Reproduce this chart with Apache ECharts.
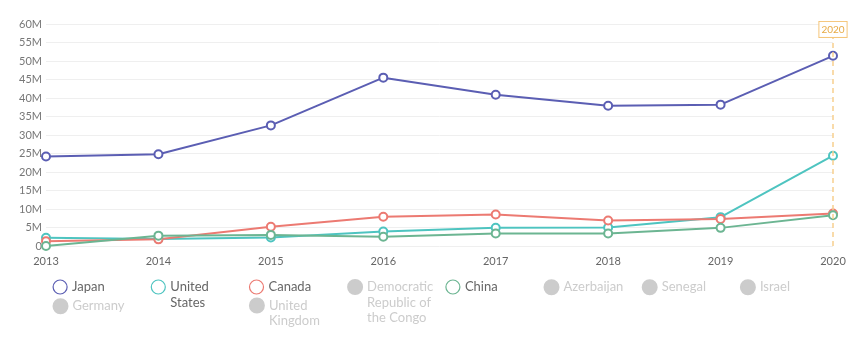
<!DOCTYPE html>
<html>
<head>
<meta charset="utf-8">
<script src="https://cdn.jsdelivr.net/npm/echarts@6/dist/echarts.min.js"></script>
<style>
html,body{margin:0;padding:0;background:#fff;}
#chart{width:858px;height:357px;}
</style>
</head>
<body>
<div id="chart"></div>
<script>
// ---- data ----
const years = ['2013','2014','2015','2016','2017','2018','2019','2020'];
const japan = [24.2e6, 24.8e6, 32.6e6, 45.5e6, 40.9e6, 37.9e6, 38.2e6, 51.4e6];
const unitedStates = [2.2e6, 1.9e6, 2.3e6, 3.9e6, 4.9e6, 5.0e6, 7.8e6, 24.4e6];
const canada = [1.3e6, 1.8e6, 5.2e6, 7.9e6, 8.5e6, 6.9e6, 7.3e6, 8.8e6];
const china = [0, 2.8e6, 3.0e6, 2.5e6, 3.4e6, 3.4e6, 4.9e6, 8.3e6];
const drc = [];
const azerbaijan = [];
const senegal = [];
const israel = [];
const germany = [];
const unitedKingdom = [];
const highlightYear = '2020';
const yTicks = {min: 0, max: 60e6, interval: 5e6};

const colors = {
  'Japan': '#5b5eb3',
  'United States': '#4ec4c0',
  'Canada': '#ec7a72',
  'Democratic Republic of the Congo': '#999999',
  'China': '#6cb592',
  'Azerbaijan': '#999999',
  'Senegal': '#999999',
  'Israel': '#999999',
  'Germany': '#999999',
  'United Kingdom': '#999999'
};
const seriesData = [
  ['Japan', japan],
  ['United States', unitedStates],
  ['Canada', canada],
  ['Democratic Republic of the Congo', drc],
  ['China', china],
  ['Azerbaijan', azerbaijan],
  ['Senegal', senegal],
  ['Israel', israel],
  ['Germany', germany],
  ['United Kingdom', unitedKingdom]
];
const hidden = ['Democratic Republic of the Congo','Azerbaijan','Senegal','Israel','Germany','United Kingdom'];

const FONT = 'Lato';
const LH = 15.5;
const colX = i => 52.5 + i * 98.2;
// [name, column, iconCenterY, lines]
const legendLayout = [
  ['Japan', 0, 287, 1],
  ['United States', 1, 287, 2],
  ['Canada', 2, 287, 1],
  ['Democratic Republic of the Congo', 3, 287, 3],
  ['China', 4, 287, 1],
  ['Azerbaijan', 5, 287, 1],
  ['Senegal', 6, 287, 1],
  ['Israel', 7, 287, 1],
  ['Germany', 0, 306, 1],
  ['United Kingdom', 2, 305.5, 2]
];
const selected = {};
seriesData.forEach(([n]) => { selected[n] = hidden.indexOf(n) < 0; });

const legends = legendLayout.map(([name, col, cy, lines]) => {
  const H = (2 * lines - 1) * LH;
  return {
    left: colX(col),
    top: cy - H / 2,
    padding: 0,
    icon: 'circle',
    itemWidth: 14,
    itemHeight: 14,
    itemGap: 5,
    selected: selected,
    inactiveColor: '#cccccc',
    inactiveBorderColor: '#cccccc',
    data: [{
      name: name,
      itemStyle: {color: '#ffffff', borderColor: colors[name], borderWidth: 1.2}
    }],
    // leading blank lines keep the first line level with the icon
    formatter: n => '\n'.repeat(lines - 1) + n,
    textStyle: {
      fontFamily: FONT, fontSize: 13, color: '#666666',
      width: 72, overflow: 'break', lineHeight: LH
    }
  };
});

const series = seriesData.map(([name, data]) => {
  const s = {
    name: name,
    type: 'line',
    data: data,
    symbol: 'emptyCircle',
    symbolSize: 8,
    showSymbol: true,
    lineStyle: {width: 2, color: colors[name]},
    itemStyle: {color: colors[name], borderWidth: 1},
    emphasis: {disabled: true}
  };
  if (name === 'Japan') {
    s.markLine = {
      silent: true,
      symbol: 'none',
      animation: false,
      lineStyle: {color: '#f8cf8e', type: [5, 4], width: 1.5},
      label: {
        show: true, position: 'end', distance: 0,
        formatter: highlightYear,
        fontFamily: FONT, fontSize: 10, color: '#e7aa45',
        backgroundColor: '#ffffff', borderColor: '#f5c67a', borderWidth: 1,
        padding: [3, 2, 2, 2]
      },
      data: [[{coord: [highlightYear, 0]}, {coord: [highlightYear, 56.5e6]}]]
    };
  }
  return s;
});

const chart = echarts.init(document.getElementById('chart'), null, {renderer: 'canvas'});
chart.setOption({
  animation: false,
  textStyle: {fontFamily: FONT},
  grid: {left: 46, right: 25, top: 24, bottom: 111},
  legend: legends,
  xAxis: {
    type: 'category',
    data: years,
    boundaryGap: false,
    axisLine: {show: false},
    axisTick: {show: false},
    axisLabel: {color: '#666666', fontSize: 11, margin: 10, fontFamily: FONT}
  },
  yAxis: {
    type: 'value',
    min: yTicks.min, max: yTicks.max, interval: yTicks.interval,
    axisLine: {show: false},
    axisTick: {show: false},
    splitLine: {lineStyle: {color: '#efefef', width: 1}},
    axisLabel: {
      color: '#777777', fontSize: 11, margin: 4, fontFamily: FONT,
      formatter: v => v === 0 ? '0' : (v / 1e6) + 'M'
    }
  },
  series: series
});
</script>
</body>
</html>
